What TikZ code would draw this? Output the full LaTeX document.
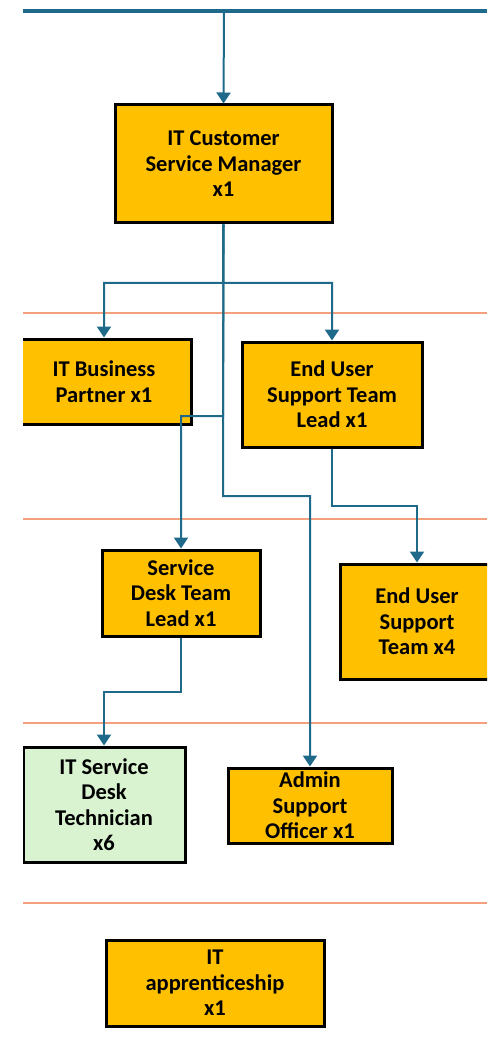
\documentclass[tikz,border=0pt]{standalone}
\usepackage{fontspec}
\setmainfont{Carlito}
\usetikzlibrary{arrows.meta}
\definecolor{conncol}{HTML}{1F6A8A}
\definecolor{gold}{HTML}{FFC000}
\definecolor{lgreen}{HTML}{D9F2D0}
\definecolor{sep}{HTML}{F2A07E}
\tikzset{
  box/.style={draw=black, line width=3pt, fill=gold, inner sep=0pt, align=center,
    font=\fontsize{22.5}{25.5}\selectfont\bfseries},
  lbl/.style={inner sep=0pt, align=center, font=\fontsize{22.5}{25.5}\selectfont\bfseries},
  conn/.style={draw=conncol, line width=2pt, -{Triangle[width=14pt,length=11pt]}},
  sepline/.style={draw=sep, line width=2pt},
}
\begin{document}
\begin{tikzpicture}[x=1pt,y=-1pt]
\useasboundingbox (0,0) rectangle (487,1048);
\begin{scope}
\clip (23,0) rectangle (487,1048);
% separator lines
\coordinate (s1l) at (23,313); \coordinate (s1r) at (487,313);
\coordinate (s2l) at (23,519); \coordinate (s2r) at (487,519);
\coordinate (s3l) at (23,723); \coordinate (s3r) at (487,723);
\coordinate (s4l) at (23,903); \coordinate (s4r) at (487,903);
\draw[sepline] (s1l) -- (s1r);
\draw[sepline] (s2l) -- (s2r);
\draw[sepline] (s3l) -- (s3r);
\draw[sepline] (s4l) -- (s4r);
% top bar
\coordinate (tl) at (23,11); \coordinate (tr) at (487,11); \coordinate (top) at (224,11);
\draw[draw=conncol, line width=3.5pt] (tl) -- (tr);
% boxes
\node[box, minimum width=217, minimum height=118] (mgr) at (223.5,164) {IT Customer\\Service Manager\\x1};
\node[box, minimum width=175, minimum height=85] (itbp) at (104,381.5) {IT Business\\Partner x1};
\node[box, minimum width=180, minimum height=105] (eustl) at (332,394.5) {End User\\Support Team\\Lead x1};
\node[box, minimum width=158, minimum height=86] (sdtl) at (181,593) {Service\\Desk Team\\Lead x1};
\node[box, minimum width=154, minimum height=115] (eust) at (417,621.5) {End User\\Support\\Team x4};
\node[box, fill=lgreen, minimum width=162, minimum height=115] (itsdt) at (104,804.5) {IT Service\\Desk\\Technician\\x6};
\node[box, minimum width=164, minimum height=75] (aso) at (310,805.5) {};
\node[lbl] (asotxt) at (aso.center) {Admin\\Support\\Officer x1};
\node[box, minimum width=218, minimum height=86] (appr) at (215,983) {IT\\apprenticeship\\x1};
% connectors
\draw[conn] (top) -- (mgr.north);
\coordinate (b1) at (223,283);
\coordinate (b2) at (223,416);
\coordinate (b3) at (223,496);
\draw[conn] (mgr.south) -- (b1) -| (itbp.north);
\draw[conn] (mgr.south) -- (b1) -| (eustl.north);
\draw[conn] (mgr.south) -- (b2) -| (sdtl.north);
\draw[conn] (mgr.south) -- (b3) -| (aso.north);
\coordinate (e1) at (332,506);
\draw[conn] (eustl.south) -- (e1) -| (eust.north);
\coordinate (d1) at (181,692);
\draw[conn] (sdtl.south) -- (d1) -| (itsdt.north);
\end{scope}
\end{tikzpicture}
\end{document}
